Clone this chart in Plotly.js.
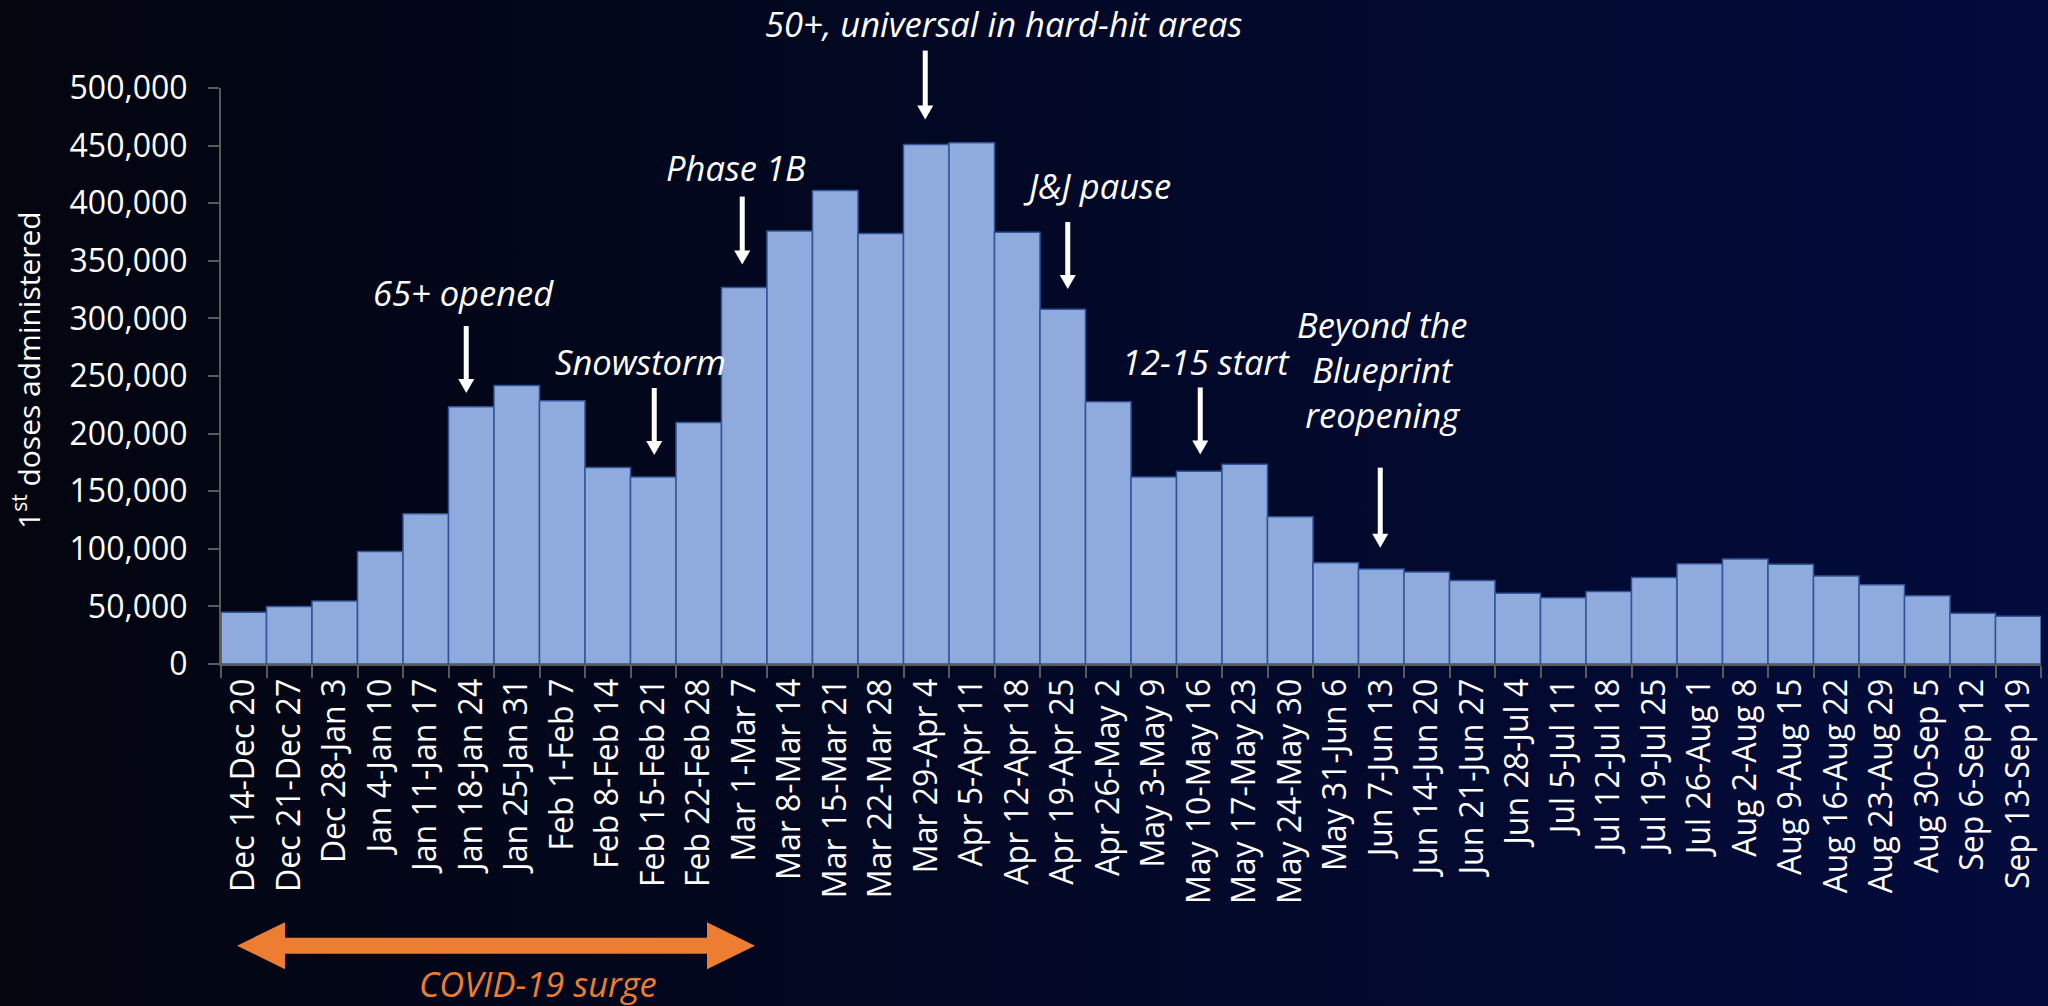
<!DOCTYPE html>
<html>
<head>
<meta charset="utf-8">
<script src="https://cdn.plot.ly/plotly-3.0.1.min.js"></script>
<style>
  html, body { margin: 0; padding: 0; width: 2048px; height: 1006px; overflow: hidden;
    background: linear-gradient(to right, #03050f 0%, #020823 45%, #030b3c 100%); }
  #chart { width: 2048px; height: 1006px; }
</style>
</head>
<body>
<div id="chart"></div>
<script>
// ---- data ----
const weeks = [
  'Dec 14-Dec 20','Dec 21-Dec 27','Dec 28-Jan 3','Jan 4-Jan 10','Jan 11-Jan 17',
  'Jan 18-Jan 24','Jan 25-Jan 31','Feb 1-Feb 7','Feb 8-Feb 14','Feb 15-Feb 21',
  'Feb 22-Feb 28','Mar 1-Mar 7','Mar 8-Mar 14','Mar 15-Mar 21','Mar 22-Mar 28',
  'Mar 29-Apr 4','Apr 5-Apr 11','Apr 12-Apr 18','Apr 19-Apr 25','Apr 26-May 2',
  'May 3-May 9','May 10-May 16','May 17-May 23','May 24-May 30','May 31-Jun 6',
  'Jun 7-Jun 13','Jun 14-Jun 20','Jun 21-Jun 27','Jun 28-Jul 4','Jul 5-Jul 11',
  'Jul 12-Jul 18','Jul 19-Jul 25','Jul 26-Aug 1','Aug 2-Aug 8','Aug 9-Aug 15',
  'Aug 16-Aug 22','Aug 23-Aug 29','Aug 30-Sep 5','Sep 6-Sep 12','Sep 13-Sep 19'
];
const firstDoses = [
  45000, 50000, 54600, 97700, 130500,
  223200, 241700, 228500, 170500, 162300,
  209600, 326800, 375800, 411100, 373600,
  450900, 452500, 374800, 308000, 227600,
  162300, 167300, 173500, 127900, 87800,
  82500, 79900, 72400, 61500, 57500,
  62900, 75000, 87100, 91100, 86500,
  76400, 68700, 59200, 44000, 41400
];
const yTickValues = [0, 50000, 100000, 150000, 200000, 250000, 300000, 350000, 400000, 450000, 500000];
const eventLabels = ['65+ opened', 'Snowstorm', 'Phase 1B', '50+, universal in hard-hit areas',
  'J&J pause', '12-15 start', 'Beyond the<br>Blueprint<br>reopening'];
const eventWeeks = ['Jan 18-Jan 24', 'Feb 15-Feb 21', 'Mar 1-Mar 7', 'Mar 29-Apr 4',
  'Apr 19-Apr 25', 'May 10-May 16', 'Jun 7-Jun 13'];
const surgeLabel = 'COVID-19 surge';
const yTitle = '1<sup>st</sup> doses administered';

// ---- layout helpers ----
const W = 2048, H = 1006;
const M = { l: 221, r: 7, t: 88, b: 342 };
const PW = W - M.l - M.r, PH = H - M.t - M.b;
const Y_MAX = 500000;
const CAT_PX = PW / weeks.length;
const px2paperX = px => (px - M.l) / PW;
const px2paperY = py => (H - M.b - py) / PH;
const val2paperY = v => v / Y_MAX;
const FONT = 'Open Sans, sans-serif';
const NOTE_SIZE = 34.5;

// per-event placement (layout only): arrow tip value, arrow length (px), x nudge (px), label position
const eventLayout = [
  { tipY: 235200, len: 67, dx: -5, tx: 4.84,  ty: px2paperY(292) },
  { tipY: 181400, len: 67, dx: 1,  tx: 8.71,  ty: px2paperY(361) },
  { tipY: 346700, len: 68, dx: -2, tx: 10.82, ty: px2paperY(167) },
  { tipY: 472600, len: 69, dx: -1, tx: 16.69, ty: px2paperY(24) },
  { tipY: 325500, len: 67, dx: 5,  tx: 18.75, ty: px2paperY(185) },
  { tipY: 181900, len: 67, dx: 1,  tx: 21.15, ty: px2paperY(361) },
  { tipY: 101000, len: 80, dx: -1, tx: 25.02, ty: px2paperY(369) }
];

const annotations = [];
const shapes = [];
const HEAD_LEN = 14, HEAD_HALF = 8;
eventLabels.forEach((lab, i) => {
  const e = eventLayout[i];
  const xi = weeks.indexOf(eventWeeks[i]) + e.dx / CAT_PX;
  const tipP = val2paperY(e.tipY);
  const baseP = tipP + HEAD_LEN / PH;
  const tailP = tipP + e.len / PH;
  const hw = HEAD_HALF / CAT_PX;
  shapes.push({ type: 'line', xref: 'x', yref: 'paper', x0: xi, x1: xi, y0: tailP, y1: baseP - 1 / PH,
                line: { color: '#ffffff', width: 5 }, layer: 'above' });
  shapes.push({ type: 'path', xref: 'x', yref: 'paper',
                path: 'M' + (xi - hw) + ',' + baseP + 'L' + (xi + hw) + ',' + baseP + 'L' + xi + ',' + tipP + 'Z',
                fillcolor: '#ffffff', line: { width: 0 }, layer: 'above' });
  annotations.push({
    xref: 'x', yref: 'paper', x: e.tx, y: e.ty, text: lab, showarrow: false,
    xanchor: 'center', yanchor: 'middle', align: 'center',
    font: { family: FONT, size: NOTE_SIZE, color: '#ffffff', style: 'italic' }
  });
});
annotations.push({
  xref: 'paper', yref: 'paper', x: px2paperX(538), y: px2paperY(983),
  text: surgeLabel, showarrow: false, xanchor: 'center', yanchor: 'middle',
  font: { family: FONT, size: NOTE_SIZE, color: '#ED7D31', style: 'italic' }
});
// y-axis title
annotations.push({
  xref: 'paper', yref: 'paper', x: px2paperX(27), y: px2paperY(370),
  text: yTitle, showarrow: false, textangle: -90, xanchor: 'center', yanchor: 'middle',
  font: { family: FONT, size: 30, color: '#ffffff' }
});

// double-headed orange arrow (paper coordinates)
const arrowPts = [[237,945.7],[285,922.2],[285,937.7],[707,937.7],[707,922.2],[755,945.7],
                  [707,969.2],[707,953.7],[285,953.7],[285,969.2]];
shapes.push({ type: 'path', xref: 'paper', yref: 'paper',
  path: 'M' + arrowPts.map(p => px2paperX(p[0]).toFixed(5) + ',' + px2paperY(p[1]).toFixed(5)).join('L') + 'Z',
  fillcolor: '#ED7D31', line: { width: 0 }, layer: 'above' });

const trace = {
  type: 'bar', x: weeks, y: firstDoses,
  marker: { color: '#8FAADC', line: { color: '#2F5597', width: 1.5 } },
  hoverinfo: 'x+y'
};

const layout = {
  width: W, height: H,
  margin: M,
  paper_bgcolor: 'rgba(0,0,0,0)', plot_bgcolor: 'rgba(0,0,0,0)',
  bargap: 0, showlegend: false,
  font: { family: FONT, color: '#ffffff', size: 32 },
  xaxis: {
    type: 'category', range: [-0.5, weeks.length - 0.5],
    tickangle: -90, tickson: 'boundaries', ticks: 'outside', ticklen: 12, tickwidth: 2,
    tickcolor: '#595959', showline: true, linecolor: '#595959', linewidth: 2,
    showgrid: false, zeroline: false, tickfont: { family: FONT, size: 32, color: '#ffffff' },
    fixedrange: true
  },
  yaxis: {
    range: [0, Y_MAX], tickvals: yTickValues, tickformat: ',d',
    ticks: 'outside', ticklen: 11, tickwidth: 2, tickcolor: '#595959',
    showline: true, linecolor: '#595959', linewidth: 2, showgrid: false, zeroline: false,
    tickfont: { family: FONT, size: 32, color: '#ffffff' }, ticklabelstandoff: 14,
    fixedrange: true
  },
  annotations: annotations,
  shapes: shapes
};

Plotly.newPlot('chart', [trace], layout, { displayModeBar: false, staticPlot: true });
</script>
</body>
</html>
